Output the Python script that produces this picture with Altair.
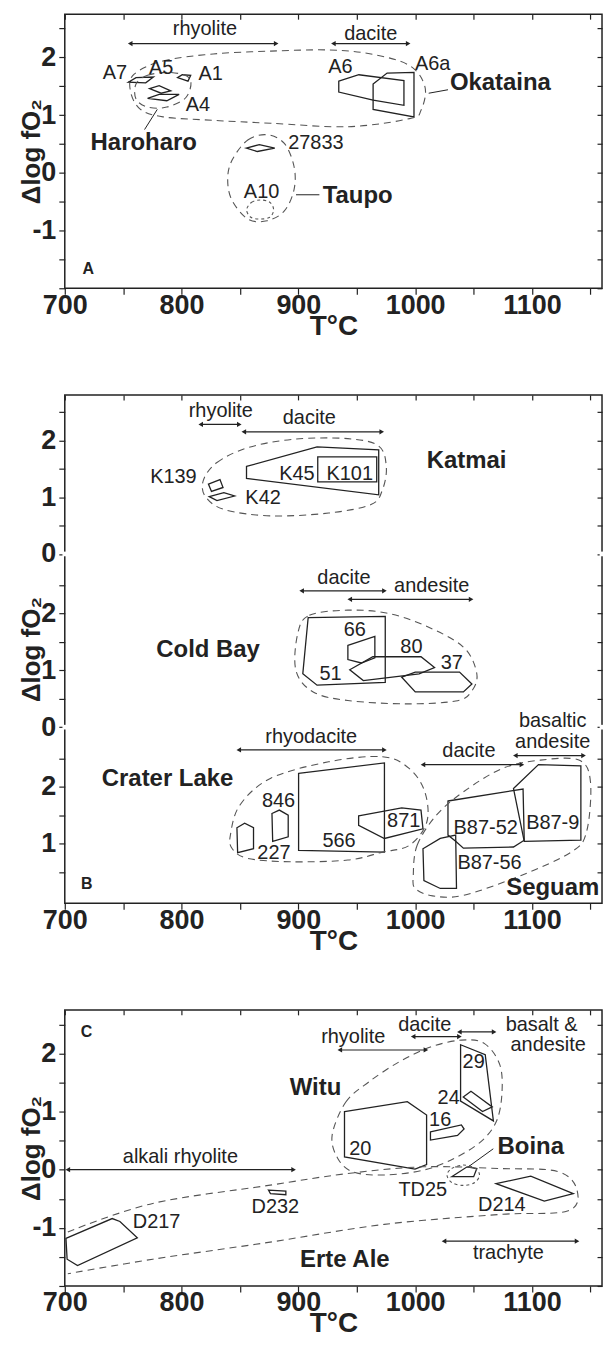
import altair as alt
import pandas as pd

FONT = "Liberation Sans"
INK = "#222222"
GREY = "#555555"

# ======================= PANEL A =======================
A_arrow_T1 = [756, 930]
A_arrow_T2 = [881, 994]
A_arrow_D = [2.24, 2.24]

A_lab = ["rhyolite", "dacite", "A7", "A5", "A1", "A4", "A6", "A6a", "27833", "A10"]
A_lab_T = [820, 962, 743, 782.5, 825, 814, 936, 1015, 915, 868.5]
A_lab_D = [2.49, 2.41, 1.73, 1.82, 1.71, 1.17, 1.83, 1.89, 0.51, -0.33]

A_bold = ["Okataina", "Haroharo", "Taupo"]
A_bold_T = [1073, 767.6, 950.8]
A_bold_D = [1.55, 0.51, -0.40]

A_letter = ["A"]
A_letter_T = [720]
A_letter_D = [-1.66]

A_lead_T1 = [779.2, 1011.6, 898]
A_lead_D1 = [1.10, 1.38, -0.38]
A_lead_T2 = [768.3, 1028.1, 918]
A_lead_D2 = [0.75, 1.44, -0.38]

A7_T = [754.4, 761.0, 775.9, 769.3]
A7_D = [1.57, 1.65, 1.66, 1.56]
A5_T = [772.6, 780.8, 790.7, 782.5]
A5_D = [1.46, 1.51, 1.42, 1.38]
A4_T = [770.9, 780.8, 797.9, 787.4]
A4_D = [1.29, 1.36, 1.36, 1.25]
A1_T = [796.6, 800.6, 807.8, 805.5]
A1_D = [1.65, 1.70, 1.69, 1.59]
A6_T = [934.6, 951.8, 990.4, 990.4, 964.0, 934.6]
A6_D = [1.59, 1.70, 1.60, 1.17, 1.26, 1.40]
A6a_T = [964.0, 976.0, 999.0, 999.0, 964.0]
A6a_D = [1.54, 1.73, 1.74, 0.97, 1.10]
S27833_T = [855.4, 866.6, 879.8, 864.9]
S27833_D = [0.43, 0.49, 0.43, 0.37]

OKA_T = [759.4, 784.1, 827.0, 876.4, 925.9, 962.2, 995.2, 1008.4, 1005.1, 995.2, 942.4, 876.4, 827.0, 784.1, 764.3, 756.1]
OKA_D = [1.71, 1.94, 2.06, 2.11, 2.13, 2.06, 1.86, 1.49, 1.09, 0.94, 0.80, 0.86, 0.91, 0.97, 1.11, 1.43]
HARO_T = [761.0, 770.9, 790.7, 807.2, 803.9, 787.4, 770.9, 761.0]
HARO_D = [1.54, 1.69, 1.74, 1.63, 1.31, 1.14, 1.14, 1.28]
TAUPO_T = [843.5, 856.7, 873.2, 888.0, 896.3, 896.3, 888.0, 873.2, 856.7, 842.8, 839.5]
TAUPO_D = [0.23, 0.57, 0.66, 0.51, 0.11, -0.29, -0.66, -0.83, -0.80, -0.46, -0.09]
A10_T = [855.7, 860.0, 867.2, 875.5, 878.8, 875.5, 867.2, 859.3]
A10_D = [-0.64, -0.51, -0.47, -0.51, -0.64, -0.77, -0.80, -0.77]

# ======================= PANEL B =======================
# sub-panel baselines on the stacked axis
B_offset = {"Katmai": 6.1, "Cold Bay": 3.05, "Crater Lake": 0.0}
B_breaks = [3.05, 6.1]

# --- Katmai ---
K_arrow_T1 = [816.4, 853.3]
K_arrow_T2 = [849.4, 971.4]
K_arrow_D = [2.28, 2.15]
K_lab = ["rhyolite", "dacite", "K139", "K42", "K45", "K101"]
K_lab_T = [833.6, 909.4, 793, 869.8, 898.8, 944]
K_lab_D = [2.51, 2.39, 1.36, 0.98, 1.41, 1.41]
K_bold = ["Katmai"]
K_bold_T = [1044]
K_bold_D = [1.64]
K45_T = [855.6, 916.0, 968.8, 968.8, 855.6]
K45_D = [1.54, 1.885, 1.833, 1.04, 1.33]
K101_T = [916.6, 967.1, 967.1, 916.6]
K101_D = [1.71, 1.71, 1.27, 1.27]
K139_T = [823.0, 832.9, 835.5, 825.6]
K139_D = [1.23, 1.31, 1.17, 1.10]
K42_T = [823.7, 836.2, 845.4, 830.3]
K42_D = [1.01, 1.08, 1.02, 0.94]
KAT_T = [818.7, 830.3, 856.6, 896.2, 942.4, 968.8, 975.3, 972.0, 962.2, 925.9, 876.4, 836.9, 820.4]
KAT_D = [1.30, 1.61, 1.87, 2.02, 2.03, 1.90, 1.53, 1.13, 0.87, 0.72, 0.67, 0.78, 1.01]

# --- Cold Bay ---
CB_arrow_T1 = [902.8, 944.0]
CB_arrow_T2 = [973.7, 1047.9]
CB_arrow_D = [2.40, 2.25]
CB_lab = ["dacite", "andesite", "66", "80", "37", "51"]
CB_lab_T = [939, 1014.2, 948.3, 996.8, 1031.4, 927.5]
CB_lab_D = [2.62, 2.48, 1.71, 1.41, 1.13, 0.94]
CB_bold = ["Cold Bay"]
CB_bold_T = [822.7]
CB_bold_D = [1.36]
CB51_T = [908.4, 974.4, 974.4, 916.0, 903.8]
CB51_D = [1.93, 1.95, 0.79, 0.74, 0.94]
CB66_T = [942.4, 965.5, 965.5, 953.9, 942.4]
CB66_D = [1.44, 1.60, 1.22, 1.13, 1.19]
CB80_T = [963.8, 1005.0, 1016.6, 1003.4, 955.6, 944.0]
CB80_D = [1.24, 1.24, 1.05, 0.94, 0.82, 1.01]
CB37_T = [988.5, 1000.1, 1038.0, 1048.6, 1041.3, 1000.1]
CB37_D = [0.88, 0.97, 0.97, 0.76, 0.62, 0.62]
CBE_T = [899.5, 909.4, 942.4, 975.3, 1008.3, 1041.3, 1052.8, 1047.9, 1034.7, 991.8, 942.4, 912.7, 897.9]
CBE_D = [1.65, 1.97, 2.06, 2.01, 1.79, 1.41, 0.94, 0.62, 0.46, 0.41, 0.47, 0.62, 1.00]

# --- Crater Lake / Seguam ---
CL_arrow_T1 = [849.0, 1006.7, 1085.8]
CL_arrow_T2 = [973.7, 1091.4, 1144.2]
CL_arrow_D = [2.65, 2.39, 2.55]
CL_lab = ["rhyodacite", "dacite", "basaltic", "andesite", "846", "227", "566", "871", "B87-52", "B87-9", "B87-56"]
CL_lab_T = [911, 1046, 1117.8, 1117.8, 883, 879.1, 934.8, 990.2, 1060.4, 1117.8, 1063.7]
CL_lab_D = [2.88, 2.63, 3.15, 2.79, 1.75, 0.84, 1.04, 1.39, 1.28, 1.36, 0.65]
CL_bold = ["Crater Lake", "Seguam"]
CL_bold_T = [788, 1117.8]
CL_bold_D = [2.14, 0.22]
CL_letter = ["B"]
CL_letter_T = [718.8]
CL_letter_D = [0.28]
CL227_T = [847.4, 854.0, 861.6, 861.6, 848.0]
CL227_D = [1.28, 1.36, 1.28, 0.91, 0.84]
CL846_T = [877.4, 883.7, 891.3, 891.3, 878.0]
CL846_D = [1.53, 1.59, 1.50, 1.12, 1.04]
CL566_T = [900.2, 973.7, 973.7, 900.2]
CL566_D = [2.235, 2.42, 0.85, 0.88]
CL871_T = [951.6, 988.5, 1005.0, 1006.7, 973.7, 951.6]
CL871_D = [1.49, 1.63, 1.59, 1.26, 1.09, 1.32]
B8752_T = [1028.1, 1092.4, 1093.4, 1084.2, 1041.3, 1034.7, 1028.1]
B8752_D = [1.75, 1.96, 1.06, 0.94, 0.92, 1.04, 1.15]
B879_T = [1084.2, 1105.6, 1141.9, 1141.9, 1093.4]
B879_D = [1.97, 2.39, 2.37, 1.06, 1.04]
B8756_T = [1006.7, 1021.5, 1034.7, 1035.4, 1021.5, 1007.5]
B8756_D = [0.91, 1.09, 1.15, 0.21, 0.21, 0.35]
CLE_T = [841.8, 850.0, 876.4, 925.9, 972.0, 995.1, 1008.3, 1010.0, 995.1, 972.0, 942.4, 892.9, 856.6, 843.4]
CLE_D = [1.15, 1.68, 2.15, 2.44, 2.53, 2.32, 1.91, 1.38, 0.97, 0.85, 0.71, 0.68, 0.74, 0.91]
SEG_T = [998.4, 1001.7, 1018.2, 1041.3, 1074.3, 1107.3, 1140.2, 1150.1, 1146.8, 1133.6, 1090.8, 1041.3, 1014.9, 1000.1]
SEG_D = [0.44, 0.97, 1.50, 1.91, 2.32, 2.47, 2.47, 2.09, 1.21, 0.85, 0.44, 0.09, 0.08, 0.21]

# ======================= PANEL C =======================
C_arrow_T1 = [935.5, 998.3, 1037.9, 702.6, 1024.7]
C_arrow_T2 = [1009.2, 1037.9, 1067.6, 895.9, 1138.6]
C_arrow_D = [2.06, 2.29, 2.37, 0.0, -1.23]
C_lab = ["rhyolite", "dacite", "basalt &", "andesite", "20", "16", "29", "24", "alkali rhyolite",
         "TD25", "D214", "D217", "D232", "trachyte"]
C_lab_T = [947, 1008.2, 1108.3, 1113.9, 953, 1021.4, 1050.1, 1028.7, 799, 1006.5, 1074.2, 778.6, 880.3, 1079.8]
C_lab_D = [2.29, 2.49, 2.49, 2.14, 0.36, 0.85, 1.85, 1.24, 0.22, -0.35, -0.61, -0.90, -0.64, -1.44]
C_bold = ["Witu", "Boina", "Erte Ale"]
C_bold_T = [914.7, 1099, 939.8]
C_bold_D = [1.40, 0.39, -1.56]
C_letter = ["C"]
C_letter_T = [718.5]
C_letter_D = [2.37]
C_lead_T1 = [1045.5]
C_lead_D1 = [0.05]
C_lead_T2 = [1066.9]
C_lead_D2 = [0.36]
C20_T = [939.5, 993.3, 1009.8, 1009.8, 999.9, 939.5]
C20_D = [1.00, 1.17, 0.94, 0.09, 0.01, 0.22]
C16_T = [1013.1, 1039.6, 1041.9, 1036.3, 1013.1]
C16_D = [0.65, 0.77, 0.70, 0.59, 0.51]
C29_T = [1038.9, 1060.0, 1067.0, 1038.9]
C29_D = [2.15, 1.98, 0.84, 1.18]
C24_T = [1041.2, 1047.8, 1066.0, 1057.7]
C24_D = [1.25, 1.35, 1.08, 1.00]
TD25_T = [1031.3, 1044.5, 1052.8, 1050.1]
TD25_D = [-0.12, 0.05, 0.02, -0.12]
D214_T = [1069.3, 1099.0, 1135.4, 1110.6]
D214_D = [-0.24, -0.11, -0.41, -0.54]
D217_T = [701.0, 740.6, 747.2, 762.1, 710.9, 702.0]
D217_D = [-1.18, -0.84, -0.89, -1.17, -1.65, -1.54]
D232_T = [874.4, 889.3, 889.3, 876.1]
D232_D = [-0.35, -0.37, -0.43, -0.41]
WITU_T = [928.9, 940.5, 960.3, 986.7, 1013.1, 1039.5, 1059.4, 1072.6, 1074.2, 1069.3, 1056.1, 1032.9, 1006.5, 973.5, 947.1, 933.9]
WITU_D = [0.59, 1.16, 1.51, 1.86, 2.11, 2.23, 2.17, 1.80, 1.28, 0.82, 0.48, 0.19, -0.01, -0.09, -0.04, 0.19]
TDE_T = [1027.3, 1031.3, 1041.2, 1051.1, 1055.1, 1051.1, 1041.2, 1031.3]
TDE_D = [-0.09, 0.02, 0.08, 0.03, -0.09, -0.22, -0.27, -0.22]
ERTE_T = [702.6, 775.3, 874.4, 940.5, 1006.5, 1072.6, 1122.1, 1138.6, 1130.4, 1072.6, 973.5, 874.4, 775.3, 702.6]
ERTE_D = [-1.07, -0.58, -0.27, -0.07, 0.05, 0.02, -0.03, -0.35, -0.71, -0.77, -0.94, -1.25, -1.54, -1.79]

# ======================= helpers =======================
XS = alt.Scale(domain=[700, 1160], nice=False, zero=False)
XTICKS = list(range(700, 1151, 50))

X_AXIS = alt.Axis(
    values=XTICKS,
    labelExpr="datum.value % 100 == 0 ? datum.label : ''",
    format="d", title="T\u00b0C", grid=False, domain=False,
    tickSize=6, tickColor=INK, tickWidth=1.2,
    labelFont=FONT, labelFontSize=27, labelFontWeight="bold", labelColor=INK,
    labelPadding=-2, labelOverlap=False, labelFlush=False,
    titleFont=FONT, titleFontSize=28, titleFontWeight="bold", titleColor=INK,
    titlePadding=-6,
)
X_TOP = alt.Axis(orient="top", values=XTICKS, labels=False, title=None, grid=False, domain=False,
                 tickSize=5, offset=-5, tickColor=INK, tickWidth=1.2)


def y_axis(values, expr, tpad):
    return alt.Axis(
        values=values, labelExpr=expr, title="\u0394log fO\u2082", grid=False, domain=False,
        tickSize=6, tickColor=INK, tickWidth=1.2,
        labelFont=FONT, labelFontSize=27, labelFontWeight="bold", labelColor=INK,
        labelPadding=3, labelOverlap=False, labelFlush=False,
        titleFont=FONT, titleFontSize=26, titleFontWeight="bold", titleColor=INK,
        titlePadding=tpad,
    )


def y_right(values):
    return alt.Axis(orient="right", values=values, labels=False, title=None, grid=False, domain=False,
                    tickSize=5, offset=-5, tickColor=INK, tickWidth=1.2)


def shapes_df(shapes, offset=0.0):
    rows = []
    for name, (ts, ds) in shapes.items():
        for i, (t, d) in enumerate(zip(ts, ds)):
            rows.append({"name": name, "i": i, "T": t, "D": d + offset})
    return pd.DataFrame(rows)


def items_df(names, ts, ds, offset=0.0):
    return pd.DataFrame({"name": names, "T": ts, "D": [d + offset for d in ds]})


def arrows_df(t1, t2, ds, offset=0.0):
    return pd.DataFrame({"T1": t1, "T2": t2, "D": [d + offset for d in ds]})


def build_panel(ys, yax, yright, height, polys, dashed, dotted, opens, arrows, leaders, labels, bolds, letters,
                breaks=None):
    def X(f="T"):
        return alt.X(f"{f}:Q", scale=XS, axis=X_AXIS)

    def Y(f="D"):
        return alt.Y(f"{f}:Q", scale=ys, axis=yax)

    layers = []
    layers.append(alt.Chart(polys).mark_line(interpolate="linear-closed", color=INK, strokeWidth=1.3)
                  .encode(x=X(), y=Y(), detail="name:N", order="i:Q"))
    layers.append(alt.Chart(dashed).mark_line(interpolate="cardinal-closed", color=GREY, strokeWidth=1.1,
                                              strokeDash=[7, 5])
                  .encode(x=X(), y=Y(), detail="name:N", order="i:Q"))
    if dotted is not None:
        layers.append(alt.Chart(dotted).mark_line(interpolate="cardinal-closed", color=GREY, strokeWidth=1.1,
                                                  strokeDash=[3, 3])
                      .encode(x=X(), y=Y(), detail="name:N", order="i:Q"))
    if opens is not None:
        layers.append(alt.Chart(opens).mark_line(interpolate="cardinal", color=GREY, strokeWidth=1.1,
                                                 strokeDash=[7, 5])
                      .encode(x=X(), y=Y(), detail="name:N", order="i:Q"))
    layers.append(alt.Chart(arrows).mark_rule(color=INK, strokeWidth=1.2)
                  .encode(x=X("T1"), x2="T2:Q", y=Y()))
    layers.append(alt.Chart(arrows).mark_point(shape="triangle-left", filled=True, size=28, color=INK, opacity=1)
                  .encode(x=X("T1"), y=Y()))
    layers.append(alt.Chart(arrows).mark_point(shape="triangle-right", filled=True, size=28, color=INK, opacity=1)
                  .encode(x=X("T2"), y=Y()))
    if leaders is not None:
        layers.append(alt.Chart(leaders).mark_rule(color=INK, strokeWidth=1.0)
                      .encode(x=X("T1"), x2="T2:Q", y=Y("D1"), y2="D2:Q"))
    layers.append(alt.Chart(labels).mark_text(font=FONT, fontSize=20, color=INK)
                  .encode(x=X(), y=Y(), text="name:N"))
    layers.append(alt.Chart(bolds).mark_text(font=FONT, fontSize=24, fontWeight="bold", color=INK)
                  .encode(x=X(), y=Y(), text="name:N"))
    layers.append(alt.Chart(letters).mark_text(font=FONT, fontSize=16, fontWeight="bold", color=INK)
                  .encode(x=X(), y=Y(), text="name:N"))
    if breaks is not None:
        bdf = pd.DataFrame({"T": [700] * len(breaks) + [1160] * len(breaks), "D": breaks + breaks})
        layers.append(alt.Chart(bdf).mark_square(size=22, color="white", opacity=1, filled=True)
                      .encode(x=X(), y=Y()))
    main = alt.layer(*layers)
    frame = alt.Chart(pd.DataFrame({"T": [700], "D": [0]})).mark_point(opacity=0).encode(
        x=alt.X("T:Q", scale=XS, axis=X_TOP), y=alt.Y("D:Q", scale=ys, axis=yright))
    return (alt.layer(main, frame).resolve_axis(x="independent", y="independent")
            .properties(width=539, height=height))


# ----- panel A -----
ysA = alt.Scale(domain=[-2, 2.75], nice=False, zero=False)
yvals = [-2, -1.5, -1, -0.5, 0, 0.5, 1, 1.5, 2, 2.5]
yexpr = "datum.value % 1 == 0 && datum.value > -2 ? (datum.value < 0 ? '-' + abs(datum.value) : '' + datum.value) : ''"
yaxA = y_axis(yvals, yexpr, -13)

panelA = build_panel(
    ysA, yaxA, y_right(yvals), 275,
    shapes_df({"A7": (A7_T, A7_D), "A5": (A5_T, A5_D), "A4": (A4_T, A4_D), "A1": (A1_T, A1_D),
               "A6": (A6_T, A6_D), "A6a": (A6a_T, A6a_D), "27833": (S27833_T, S27833_D)}),
    shapes_df({"Okataina": (OKA_T, OKA_D), "Haroharo": (HARO_T, HARO_D), "Taupo": (TAUPO_T, TAUPO_D)}),
    shapes_df({"A10": (A10_T, A10_D)}),
    None,
    arrows_df(A_arrow_T1, A_arrow_T2, A_arrow_D),
    pd.DataFrame({"T1": A_lead_T1, "T2": A_lead_T2, "D1": A_lead_D1, "D2": A_lead_D2}),
    items_df(A_lab, A_lab_T, A_lab_D),
    items_df(A_bold, A_bold_T, A_bold_D),
    items_df(A_letter, A_letter_T, A_letter_D),
)

# ----- panel B -----
oK, oC, oL = B_offset["Katmai"], B_offset["Cold Bay"], B_offset["Crater Lake"]
ysB = alt.Scale(domain=[-0.05, 8.9], nice=False, zero=False)
b_vals, b_labels = [], {}
for off in (oL, oC, oK):
    for v in [0, 0.5, 1, 1.5, 2, 2.5]:
        if off == oL and v == 0:
            continue
        pos = round(off + v, 3)
        b_vals.append(pos)
        if v % 1 == 0:
            b_labels[pos] = str(int(v))
bexpr = " : ".join([f"datum.value == {k} ? '{s}'" for k, s in b_labels.items()]) + " : ''"
yaxB = y_axis(b_vals, bexpr, -4)

polysB = pd.concat([
    shapes_df({"K45": (K45_T, K45_D), "K101": (K101_T, K101_D), "K139": (K139_T, K139_D),
               "K42": (K42_T, K42_D)}, oK),
    shapes_df({"51": (CB51_T, CB51_D), "66": (CB66_T, CB66_D), "80": (CB80_T, CB80_D),
               "37": (CB37_T, CB37_D)}, oC),
    shapes_df({"227": (CL227_T, CL227_D), "846": (CL846_T, CL846_D), "566": (CL566_T, CL566_D),
               "871": (CL871_T, CL871_D), "B87-52": (B8752_T, B8752_D), "B87-9": (B879_T, B879_D),
               "B87-56": (B8756_T, B8756_D)}, oL),
])
dashB = pd.concat([
    shapes_df({"Katmai": (KAT_T, KAT_D)}, oK),
    shapes_df({"ColdBay": (CBE_T, CBE_D)}, oC),
    shapes_df({"Crater": (CLE_T, CLE_D), "Seguam": (SEG_T, SEG_D)}, oL),
])
arrB = pd.concat([
    arrows_df(K_arrow_T1, K_arrow_T2, K_arrow_D, oK),
    arrows_df(CB_arrow_T1, CB_arrow_T2, CB_arrow_D, oC),
    arrows_df(CL_arrow_T1, CL_arrow_T2, CL_arrow_D, oL),
])
labB = pd.concat([
    items_df(K_lab, K_lab_T, K_lab_D, oK),
    items_df(CB_lab, CB_lab_T, CB_lab_D, oC),
    items_df(CL_lab, CL_lab_T, CL_lab_D, oL),
])
boldB = pd.concat([
    items_df(K_bold, K_bold_T, K_bold_D, oK),
    items_df(CB_bold, CB_bold_T, CB_bold_D, oC),
    items_df(CL_bold, CL_bold_T, CL_bold_D, oL),
])

panelB = build_panel(
    ysB, yaxB, y_right(b_vals), 510, polysB, dashB, None, None, arrB, None, labB, boldB,
    items_df(CL_letter, CL_letter_T, CL_letter_D, oL), breaks=B_breaks,
)

# ----- panel C -----
panelC = build_panel(
    ysA, yaxA, y_right(yvals), 277,
    shapes_df({"20": (C20_T, C20_D), "16": (C16_T, C16_D), "29": (C29_T, C29_D), "24": (C24_T, C24_D),
               "TD25": (TD25_T, TD25_D), "D214": (D214_T, D214_D), "D217": (D217_T, D217_D),
               "D232": (D232_T, D232_D)}),
    shapes_df({"Witu": (WITU_T, WITU_D)}),
    shapes_df({"TD25e": (TDE_T, TDE_D)}),
    shapes_df({"ErteAle": (ERTE_T, ERTE_D)}),
    arrows_df(C_arrow_T1, C_arrow_T2, C_arrow_D),
    pd.DataFrame({"T1": C_lead_T1, "T2": C_lead_T2, "D1": C_lead_D1, "D2": C_lead_D2}),
    items_df(C_lab, C_lab_T, C_lab_D),
    items_df(C_bold, C_bold_T, C_bold_D),
    items_df(C_letter, C_letter_T, C_letter_D),
)

chart = (
    alt.vconcat(panelA, panelB, panelC, spacing=52)
    .properties(padding={"left": 18, "top": 10, "right": 0, "bottom": 0}, background="white")
    .configure_view(stroke=INK, strokeWidth=1.5)
)

chart.save("out.html", embed_options={"renderer": "svg", "actions": False})
